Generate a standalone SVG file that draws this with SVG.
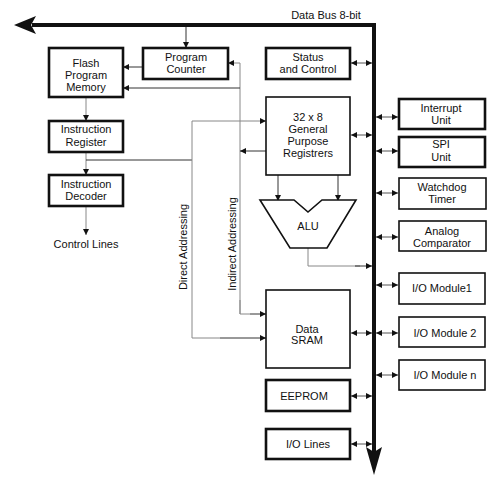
<svg xmlns="http://www.w3.org/2000/svg" width="492" height="479" viewBox="0 0 492 479">
<defs>
<marker id="ah" viewBox="0 0 10 10" refX="10" refY="5" markerWidth="6" markerHeight="6" markerUnits="userSpaceOnUse" orient="auto-start-reverse">
<path d="M0,0 L10,5 L0,10 Z" fill="#111"/>
</marker>
<style>
text{font-family:"Liberation Sans",Arial,sans-serif;font-size:11px;fill:#111;text-anchor:middle}
.bx{fill:#fff;stroke:#111;stroke-width:2.6}
.tn{fill:#fff;stroke:#111;stroke-width:1.6}
.ln{fill:none;stroke:#333;stroke-width:1}
.gl{fill:none;stroke:#888;stroke-width:1}
.da{fill:none;stroke:#555;stroke-width:1;marker-start:url(#ah);marker-end:url(#ah)}
.a{marker-end:url(#ah)}
</style>
</defs>
<rect width="492" height="479" fill="#fff"/>

<g id="bus">
<path d="M32 25 H374 V452" fill="none" stroke="#111" stroke-width="4" stroke-linejoin="miter"/>
<polygon points="14,25 36,16 31,25 36,34" fill="#111"/>
<polygon points="374,475 366,447 374,452 382,447" fill="#111"/>
<text x="326" y="19">Data Bus 8-bit</text>
</g>

<g id="connectors">
<line class="ln a" x1="186" y1="27" x2="186" y2="48"/>
<line class="ln a" x1="143" y1="67" x2="123" y2="67"/>
<line class="gl a" x1="86" y1="97" x2="86" y2="121"/>
<line class="gl a" x1="86" y1="152" x2="86" y2="175"/>
<line class="gl a" x1="86" y1="206" x2="86" y2="235"/>
<polyline class="ln" points="86,160 192,160"/>
<polyline class="gl a" points="192,160 192,121 266,121"/>
<polyline class="gl" points="192,160 192,338 220,338"/>
<line class="ln a" x1="220" y1="338" x2="266" y2="338"/>
<polyline class="gl a" points="240,314 240,63 228,63"/>
<line class="ln a" x1="240" y1="88" x2="123" y2="88"/>
<polyline class="gl" points="240,300 240,314 250,314"/>
<line class="ln a" x1="250" y1="314" x2="266" y2="314"/>
<line class="ln a" x1="266" y1="151" x2="240" y2="151"/>
<line class="ln a" x1="278" y1="175" x2="278" y2="201"/>
<line class="ln a" x1="338" y1="175" x2="338" y2="201"/>
<polyline class="gl" points="308,248 308,266 360,266"/>
<line class="ln a" x1="355" y1="266" x2="372" y2="266"/>
<line class="da" x1="351" y1="63" x2="372" y2="63"/>
<line class="da" x1="351" y1="135" x2="372" y2="135"/>
<line class="da" x1="351" y1="333" x2="372" y2="333"/>
<line class="da" x1="351" y1="396" x2="372" y2="396"/>
<line class="da" x1="351" y1="444" x2="372" y2="444"/>
<line class="da" x1="376" y1="117" x2="398" y2="117"/>
<line class="da" x1="376" y1="151" x2="398" y2="151"/>
<line class="da" x1="376" y1="193" x2="398" y2="193"/>
<line class="da" x1="376" y1="237" x2="398" y2="237"/>
<line class="da" x1="376" y1="285" x2="398" y2="285"/>
<line class="da" x1="376" y1="333" x2="398" y2="333"/>
<line class="da" x1="376" y1="375" x2="398" y2="375"/>
</g>

<g id="program-counter"><rect class="bx" x="143" y="48" width="85" height="31"/><text x="186" y="61">Program</text><text x="186" y="73">Counter</text></g>
<g id="flash-memory"><rect class="bx" x="49" y="48" width="74" height="49"/><text x="86" y="67">Flash</text><text x="86" y="79">Program</text><text x="86" y="91">Memory</text></g>
<g id="instruction-register"><rect class="bx" x="49" y="121" width="74" height="31"/><text x="86" y="133">Instruction</text><text x="86" y="146">Register</text></g>
<g id="instruction-decoder"><rect class="bx" x="49" y="175" width="74" height="31"/><text x="86" y="188">Instruction</text><text x="86" y="200">Decoder</text></g>
<g id="control-lines"><text x="86" y="248">Control Lines</text></g>
<g id="direct-addressing"><text transform="translate(187,247) rotate(-90)">Direct Addressing</text></g>
<g id="indirect-addressing"><text transform="translate(236,244) rotate(-90)">Indirect Addressing</text></g>
<g id="status-control"><rect class="bx" x="266" y="48" width="84" height="31"/><text x="308" y="61">Status</text><text x="308" y="73">and Control</text></g>
<g id="gpr"><rect class="tn" x="266" y="97" width="84" height="78"/><text x="308" y="121">32 x 8</text><text x="308" y="133">General</text><text x="308" y="145">Purpose</text><text x="308" y="157">Registrers</text></g>
<g id="alu"><polygon class="tn" points="260,200 294,200 308,212 322,200 356,200 327,248 290,248"/><text x="308" y="230">ALU</text></g>
<g id="data-sram"><rect class="tn" x="266" y="290" width="84" height="78"/><text x="307" y="333">Data</text><text x="307" y="344">SRAM</text></g>
<g id="eeprom"><rect class="bx" x="266" y="380" width="84" height="31"/><text x="304" y="400">EEPROM</text></g>
<g id="io-lines"><rect class="bx" x="266" y="429" width="84" height="30"/><text x="308" y="448">I/O Lines</text></g>
<g id="interrupt-unit"><rect class="bx" x="399" y="99" width="86" height="30"/><text x="441" y="112">Interrupt</text><text x="441" y="124">Unit</text></g>
<g id="spi-unit"><rect class="bx" x="399" y="137" width="86" height="30"/><text x="441" y="148">SPI</text><text x="441" y="161">Unit</text></g>
<g id="watchdog"><rect class="tn" x="399" y="178" width="87" height="31"/><text x="442" y="191">Watchdog</text><text x="442" y="203">Timer</text></g>
<g id="analog-comparator"><rect class="tn" x="399" y="221" width="87" height="30"/><text x="442" y="235">Analog</text><text x="442" y="247">Comparator</text></g>
<g id="io-module1"><rect class="tn" x="399" y="273" width="86" height="31"/><text x="442" y="292">I/O Module1</text></g>
<g id="io-module2"><rect class="tn" x="399" y="317" width="86" height="30"/><text x="445" y="337">I/O Module 2</text></g>
<g id="io-modulen"><rect class="tn" x="399" y="360" width="86" height="30"/><text x="445" y="379">I/O Module n</text></g>
</svg>
